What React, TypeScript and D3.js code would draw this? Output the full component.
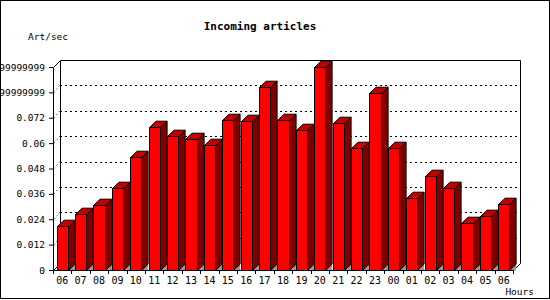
import * as d3 from 'd3'
import React, { useEffect, useRef } from "react";

const hours = ["06", "07", "08", "09", "10", "11", "12", "13", "14", "15", "16", "17", "18",
    "19", "20", "21", "22", "23", "00", "01", "02", "03", "04", "05", "06"];
const rates = [0.0206, 0.0265, 0.0307, 0.0386, 0.0534, 0.0676, 0.0634, 0.0620, 0.0591, 0.0709,
    0.0705, 0.0867, 0.0709, 0.0662, 0.0958, 0.0694, 0.0577, 0.0836, 0.0575, 0.0340,
    0.0445, 0.0386, 0.0221, 0.0255, 0.0312];
const yTicks = [0, 0.012, 0.024, 0.036, 0.048, 0.06, 0.072, 0.084, 0.096];
const yTickLabels = ["0", "0.012", "0.024", "0.036", "0.048", "0.06", "0.072", "0.08399999999", "0.09599999999"];

const MONO = '"DejaVu Sans Mono", monospace';

const IncomingChart: React.FC = () => {
    const ref = useRef<SVGSVGElement>(null);

    useEffect(() => {
        if (!ref.current) return;
        const width = 550;
        const height = 300;
        const svg = d3.select(ref.current)
            .attr('width', width)
            .attr('height', height);
        svg.selectAll('*').remove();

        // plot geometry (front plane) and 3d depth
        const left = 53, right = 513, bottom = 270, top = 67;
        const dx = 7, dy = 7;
        const bdx = 6.6, bdy = 6.3;

        const idx = hours.map((_, i) => i);
        const x = d3.scaleBand<number>().domain(idx).range([left, right])
            .paddingInner(0.402).paddingOuter(0.201);
        const xTick = d3.scaleBand<number>().domain(idx).range([left, right]);
        const y = d3.scaleLinear().domain([0, 0.096]).range([bottom, top]);

        // outer frame
        svg.append('rect')
            .attr('x', 0.5).attr('y', 0.5)
            .attr('width', width - 1).attr('height', height - 2)
            .attr('fill', 'white').attr('stroke', 'black');

        // dotted grid on back plane
        yTicks.slice(1, -1).forEach(t => {
            const gy = Math.round(y(t) - dy) + 0.5;
            svg.append('line')
                .attr('x1', left + dx).attr('x2', right + dx)
                .attr('y1', gy).attr('y2', gy)
                .attr('stroke', 'black').attr('stroke-dasharray', '2,3');
            svg.append('line')
                .attr('x1', left + 1).attr('x2', left + dx)
                .attr('y1', y(t)).attr('y2', y(t) - dy)
                .attr('stroke', 'black').attr('stroke-dasharray', '1,3');
        });

        // back box
        const bl = left + dx + 0.5, br = right + dx + 0.5;
        const bt = Math.round(top - dy) + 0.5, bb = Math.round(bottom - dy) + 0.5;
        svg.append('path')
            .attr('d', `M${bl},${bb}V${bt}H${br}V${bb}L${right + 0.5},${bottom + 0.5}`)
            .attr('fill', 'none').attr('stroke', 'black');
        svg.append('line')
            .attr('x1', left + 0.5).attr('y1', top + 0.5)
            .attr('x2', bl).attr('y2', bt)
            .attr('stroke', 'black');
        svg.append('line')
            .attr('x1', left + 0.5).attr('y1', bottom + 0.5)
            .attr('x2', bl).attr('y2', bb)
            .attr('stroke', 'black');

        // bars
        const bars = svg.append('g').attr('stroke', 'black').attr('stroke-width', 1);
        rates.forEach((v, i) => {
            const x0 = Math.round(x(i)!) + 0.5;
            const x1 = Math.round(x(i)! + x.bandwidth()) + 0.5;
            const y0 = bottom + 0.5;
            const y1 = Math.round(y(v)) + 0.5;
            bars.append('path')
                .attr('d', `M${x1},${y0}L${x1 + bdx},${y0 - bdy}L${x1 + bdx},${y0}Z`)
                .attr('fill', '#999999').attr('stroke', 'none');
            bars.append('path')
                .attr('d', `M${x1},${y0}V${y1}L${x1 + bdx},${y1 - bdy}V${y0 - bdy}Z`)
                .attr('fill', '#800000');
            bars.append('path')
                .attr('d', `M${x0},${y1}L${x0 + bdx},${y1 - bdy}H${x1 + bdx}L${x1},${y1}Z`)
                .attr('fill', '#c40000');
            bars.append('rect')
                .attr('x', x0).attr('y', y1)
                .attr('width', x1 - x0).attr('height', y0 - y1)
                .attr('fill', '#ff0000');
        });

        // x axis
        const xg = svg.append('g');
        xg.append('line')
            .attr('x1', left).attr('x2', right + 0.5)
            .attr('y1', bottom + 0.5).attr('y2', bottom + 0.5)
            .attr('stroke', 'black');
        idx.concat([hours.length]).forEach(i => {
            const tx = Math.round(i < hours.length ? xTick(i)! : right) + 0.5;
            xg.append('line')
                .attr('x1', tx).attr('x2', tx)
                .attr('y1', bottom).attr('y2', bottom + 4)
                .attr('stroke', 'black');
        });
        xg.selectAll('text.hour')
            .data(hours)
            .join('text')
            .attr('class', 'hour')
            .attr('x', (_, i) => xTick(i)! + xTick.bandwidth() / 2)
            .attr('y', 284)
            .attr('text-anchor', 'middle')
            .attr('font-family', MONO).attr('font-size', 10)
            .text(d => d);

        // y axis
        const yAxis = d3.axisLeft(y)
            .tickValues(yTicks)
            .tickSize(4)
            .tickSizeOuter(0)
            .tickPadding(4)
            .tickFormat((_, i) => yTickLabels[i]);
        const yg = svg.append('g')
            .attr('transform', `translate(${left}, 0)`)
            .call(yAxis);
        yg.attr('font-family', MONO).attr('font-size', 9.5);
        yg.selectAll('text').attr('fill', 'black');
        yg.selectAll('line, path').attr('stroke', 'black');

        // titles
        svg.append('text')
            .attr('x', 260).attr('y', 30)
            .attr('text-anchor', 'middle')
            .attr('font-family', MONO).attr('font-weight', 'bold').attr('font-size', 11)
            .text('Incoming articles');
        svg.append('text')
            .attr('x', 28).attr('y', 40)
            .attr('font-family', MONO).attr('font-size', 9.5)
            .text('Art/sec');
        svg.append('text')
            .attr('x', 534).attr('y', 295)
            .attr('text-anchor', 'end')
            .attr('font-family', MONO).attr('font-size', 9.5)
            .text('Hours');
    }, []);

    return (<svg ref={ref} style={{ display: 'block' }}></svg>);
}

export default function App() {
    return (
        <>
            <style>{`body { margin: 0; }`}</style>
            <IncomingChart />
        </>
    );
}
